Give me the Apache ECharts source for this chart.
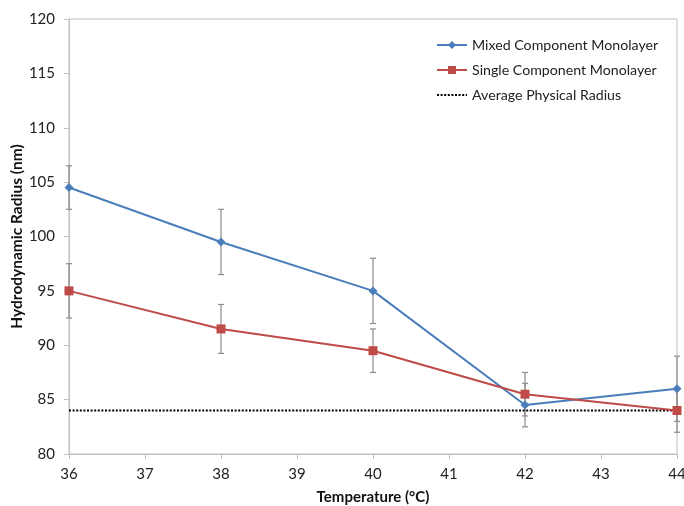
<!DOCTYPE html>
<html>
<head>
<meta charset="utf-8">
<script src="https://cdn.jsdelivr.net/npm/echarts@6/dist/echarts.min.js"></script>
<style>
  html, body { margin: 0; padding: 0; background: #fff; }
  #chart { width: 684px; height: 506px; }
</style>
</head>
<body>
<div id="chart"></div>
<script>
// data
const temperatures = [36, 38, 40, 42, 44];
const mixedRadius = [104.5, 99.5, 95, 84.5, 86];
const mixedError = [2, 3, 3, 2, 3];
const singleRadius = [95, 91.5, 89.5, 85.5, 84];
const singleError = [2.5, 2.25, 2, 2, 2];
const averageRadius = 84;
const seriesNames = ['Mixed Component Monolayer', 'Single Component Monolayer', 'Average Physical Radius'];

const font = 'Lato, "Open Sans", sans-serif';

// 误差棒数据: [x, low, high]
function errorData(values, errs) {
    return temperatures.map((t, i) => [t, values[i] - errs[i], values[i] + errs[i]]);
}

function renderErrorBar(params, api) {
    const low = api.coord([api.value(0), api.value(1)]);
    const high = api.coord([api.value(0), api.value(2)]);
    const cap = 3;
    const style = { stroke: '#8c8c8c', lineWidth: 1.2 };
    return {
        type: 'group',
        children: [
            { type: 'line', shape: { x1: low[0], y1: low[1], x2: high[0], y2: high[1] }, style },
            { type: 'line', shape: { x1: low[0] - cap, y1: low[1], x2: low[0] + cap, y2: low[1] }, style },
            { type: 'line', shape: { x1: high[0] - cap, y1: high[1], x2: high[0] + cap, y2: high[1] }, style }
        ]
    };
}

const chart = echarts.init(document.getElementById('chart'), null, { renderer: 'canvas' });

const option = {
    backgroundColor: '#fff',
    animation: false,
    textStyle: { fontFamily: font },
    grid: {
        left: 69, right: 7, top: 19, bottom: 52,
        containLabel: false,
        outerBoundsMode: 'none',
        show: true, borderColor: '#bfbfbf', borderWidth: 1
    },
    legend: {
        data: [
            seriesNames[0],
            seriesNames[1],
            { name: seriesNames[2], itemStyle: { opacity: 0 } }
        ],
        orient: 'vertical',
        left: 431, top: 33,
        itemWidth: 30, itemHeight: 10, itemGap: 11,
        textStyle: { fontSize: 14.2, color: '#222', fontFamily: font }
    },
    xAxis: {
        type: 'value',
        min: 36, max: 44, interval: 1,
        name: 'Temperature (°C)',
        nameLocation: 'middle', nameGap: 36,
        nameMoveOverlap: false,
        nameTextStyle: { fontWeight: 'bold', fontSize: 15, color: '#111' },
        axisLine: { lineStyle: { color: '#bfbfbf' } },
        axisTick: { show: true, length: 5, lineStyle: { color: '#bfbfbf' } },
        axisLabel: { fontSize: 15, color: '#222', margin: 13 },
        splitLine: { show: false }
    },
    yAxis: {
        type: 'value',
        min: 80, max: 120, interval: 5,
        name: 'Hydrodynamic Radius (nm)',
        nameLocation: 'middle', nameGap: 44,
        nameMoveOverlap: false,
        nameTextStyle: { fontWeight: 'bold', fontSize: 15.5, color: '#111' },
        axisLine: { show: true, lineStyle: { color: '#bfbfbf' } },
        axisTick: { show: true, length: 5, lineStyle: { color: '#bfbfbf' } },
        axisLabel: { fontSize: 15, color: '#222', margin: 14 },
        splitLine: { show: false }
    },
    series: [
        {
            name: 'mixedErr',
            type: 'custom',
            renderItem: renderErrorBar,
            data: errorData(mixedRadius, mixedError),
            z: 1
        },
        {
            name: 'singleErr',
            type: 'custom',
            renderItem: renderErrorBar,
            data: errorData(singleRadius, singleError),
            z: 1
        },
        {
            name: seriesNames[2],
            type: 'line',
            data: [[36, averageRadius], [44, averageRadius]],
            symbol: 'none',
            lineStyle: { color: '#000', width: 1.8, type: [2, 1.6] },
            itemStyle: { color: '#000' },
            z: 2
        },
        {
            name: seriesNames[0],
            type: 'line',
            data: temperatures.map((t, i) => [t, mixedRadius[i]]),
            symbol: 'diamond',
            symbolSize: 9,
            lineStyle: { color: '#4a7ebb', width: 2 },
            itemStyle: { color: '#4a7ebb' },
            z: 3
        },
        {
            name: seriesNames[1],
            type: 'line',
            data: temperatures.map((t, i) => [t, singleRadius[i]]),
            symbol: 'rect',
            symbolSize: 9,
            lineStyle: { color: '#be4b48', width: 2 },
            itemStyle: { color: '#be4b48' },
            z: 3
        }
    ]
};

chart.setOption(option);
</script>
</body>
</html>
